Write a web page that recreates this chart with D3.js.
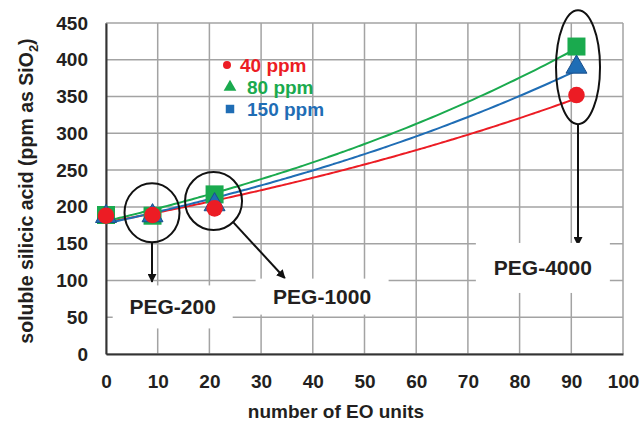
<!DOCTYPE html>
<html>
<head>
<meta charset="utf-8">
<script src="https://cdn.jsdelivr.net/npm/d3@7"></script>
<style>
  body { margin: 0; background: #fff; }
  text { font-family: "Liberation Sans", Arial, sans-serif; font-weight: bold; }
</style>
</head>
<body>
<svg id="chart" width="641" height="424"></svg>
<script>
// data
var eo_units = [0, 9, 21, 91];
var ppm40 = [188, 189, 198, 352];
var ppm80 = [189, 188, 217, 418];
var ppm150 = [187, 188, 203, 390];

var x_ticks = [0, 10, 20, 30, 40, 50, 60, 70, 80, 90, 100];
var y_ticks = [0, 50, 100, 150, 200, 250, 300, 350, 400, 450];

var series = [
	{name: "80 ppm", values: ppm80, color: "#1aaa4e", shape: "square"},
	{name: "150 ppm", values: ppm150, color: "#1f6db5", shape: "triangle"},
	{name: "40 ppm", values: ppm40, color: "#ec1c24", shape: "circle"}
];

var svg = d3.select("#chart");
var margin = {left: 106, right: 18, top: 23, bottom: 70};
var width = 641 - margin.left - margin.right,
    height = 424 - margin.top - margin.bottom;

var x = d3.scaleLinear().domain([0, 100]).range([margin.left, margin.left + width]);
var y = d3.scaleLinear().domain([0, 450]).range([margin.top + height, margin.top]);

// grid
var grid = svg.append("g").attr("class", "grid");
grid.selectAll(".vgrid").data(x_ticks).enter().append("line")
  .attr("x1", d=>x(d)).attr("x2", d=>x(d))
  .attr("y1", y(0)).attr("y2", y(450))
  .style("stroke", "#a3a3a3").style("stroke-width", 1.5);
grid.selectAll(".hgrid").data(y_ticks).enter().append("line")
  .attr("x1", x(0)).attr("x2", x(100))
  .attr("y1", d=>y(d)).attr("y2", d=>y(d))
  .style("stroke", "#a3a3a3").style("stroke-width", 1.5);

// axes
var x_axis = svg.append("g")
  .attr("transform", "translate(0," + y(0) + ")")
  .call(d3.axisBottom(x).tickValues(x_ticks).tickSize(0).tickPadding(21));
var y_axis = svg.append("g")
  .attr("transform", "translate(" + x(0) + ",0)")
  .call(d3.axisLeft(y).tickValues(y_ticks).tickSize(0).tickPadding(18));
[x_axis, y_axis].forEach(a=>{
	a.select(".domain").style("stroke", "#333").style("stroke-width", 2);
	a.selectAll("text").style("font-size", "19px").style("fill", "#231f20")
	  .style("font-family", "Liberation Sans, Arial, sans-serif").style("font-weight", "bold");
});

svg.append("text")
  .attr("x", 336).attr("y", 418)
  .attr("text-anchor", "middle")
  .style("font-size", "19px").style("fill", "#231f20")
  .text("number of EO units");

var ytitle = svg.append("text")
  .attr("transform", "translate(33,191) rotate(-90)")
  .attr("text-anchor", "middle")
  .style("font-size", "19.5px").style("fill", "#231f20");
ytitle.append("tspan").text("soluble silicic acid (ppm as SiO");
ytitle.append("tspan").attr("dy", 5).style("font-size", "13px").text("2");
ytitle.append("tspan").attr("dy", -5).text(")");

// exponential trend lines (least squares on log values, like a spreadsheet trendline)
function exp_fit(xs, ys) {
	var lys = ys.map(Math.log);
	var mx = d3.mean(xs), my = d3.mean(lys);
	var sxy = d3.sum(xs, (v,i)=>(v - mx) * (lys[i] - my));
	var sxx = d3.sum(xs, v=>(v - mx) * (v - mx));
	var b = sxy / sxx;
	var a = Math.exp(my - b * mx);
	return t=>a * Math.exp(b * t);
}

var line = d3.line().x(d=>x(d[0])).y(d=>y(d[1])).curve(d3.curveMonotoneX);
var lines_g = svg.append("g");
[series[2], series[1], series[0]].forEach(s=>{
	var f = exp_fit(eo_units, s.values);
	var pts = d3.range(0, 91.01, 1).map(t=>[t, f(t)]);
	lines_g.append("path")
	  .attr("d", line(pts))
	  .style("fill", "none")
	  .style("stroke", s.color)
	  .style("stroke-width", 2);
});

// markers
var marks = svg.append("g");
series.forEach(s=>{
	var g = marks.append("g");
	g.selectAll("path").data(s.values).enter().append("path")
	  .attr("transform", (d,i)=>"translate(" + x(eo_units[i]) + "," + y(d) + ")")
	  .attr("d", s.shape == "square" ? d3.symbol(d3.symbolSquare, 324)
	         : s.shape == "triangle" ? d3.symbol(d3.symbolTriangle, 190)
	         : d3.symbol(d3.symbolCircle, 215))
	  .style("fill", s.color)
	  .style("stroke", s.shape == "triangle" ? "#1a4f8c" : "none")
	  .style("stroke-width", 1);
});

// legend
var legend_items = [
	{label: "40 ppm", color: "#ec1c24", shape: d3.symbolCircle, size: 50},
	{label: "80 ppm", color: "#1aaa4e", shape: d3.symbolTriangle, size: 70},
	{label: "150 ppm", color: "#1f6db5", shape: d3.symbolSquare, size: 72}
];
var legend = svg.append("g").attr("transform", "translate(227,65)");
legend_items.forEach((d,i)=>{
	var row = legend.append("g").attr("transform", "translate(0," + (i * 22) + ")");
	row.append("path").attr("d", d3.symbol(d.shape, d.size)).style("fill", d.color)
	  .attr("transform", "translate(" + (i == 0 ? 0 : 3) + ",0)");
	row.append("text").attr("x", i == 0 ? 13 : 20).attr("y", 6.5)
	  .style("font-size", "19px").style("fill", d.color).text(d.label);
});

// annotations
var ann = svg.append("g");
var rings = [
	{cx: 8.9, cy: 192, rx: 27.5, ry: 29.5},
	{cx: 20.8, cy: 208, rx: 28.5, ry: 29},
	{cx: 91.3, cy: 390, rx: 22, ry: 57}
];
ann.selectAll("ellipse").data(rings).enter().append("ellipse")
  .attr("cx", d=>x(d.cx)).attr("cy", d=>y(d.cy))
  .attr("rx", d=>d.rx).attr("ry", d=>d.ry)
  .style("fill", "none").style("stroke", "#111").style("stroke-width", 2);

svg.append("defs").append("marker")
  .attr("id", "arrow").attr("viewBox", "0 0 10 10")
  .attr("refX", 9).attr("refY", 5)
  .attr("markerWidth", 4.5).attr("markerHeight", 4.5)
  .attr("orient", "auto")
  .append("path").attr("d", "M0,0L10,5L0,10Z").style("fill", "#111");

var arrows = [
	{x1: 8.9, y1: 151, x2: 8.9, y2: 98},
	{x1: 24.5, y1: 180, x2: 34.6, y2: 103},
	{x1: 91.3, y1: 312, x2: 91.3, y2: 148}
];
ann.selectAll(".arrow").data(arrows).enter().append("line")
  .attr("x1", d=>x(d.x1)).attr("y1", d=>y(d.y1))
  .attr("x2", d=>x(d.x2)).attr("y2", d=>y(d.y2))
  .style("stroke", "#111").style("stroke-width", 2)
  .attr("marker-end", "url(#arrow)");

var labels = [
	{text: "PEG-200", x: 12.9, y: 64, w: 120, h: 43},
	{text: "PEG-1000", x: 41.8, y: 78, w: 133, h: 36},
	{text: "PEG-4000", x: 84.5, y: 117, w: 134, h: 50}
];
var lab = ann.selectAll(".lab").data(labels).enter().append("g")
  .attr("transform", d=>"translate(" + x(d.x) + "," + y(d.y) + ")");
lab.append("rect")
  .attr("x", d=>-d.w / 2).attr("y", d=>-d.h / 2)
  .attr("width", d=>d.w).attr("height", d=>d.h)
  .style("fill", "#fff");
lab.append("text")
  .attr("text-anchor", "middle").attr("y", 7.5)
  .style("font-size", "21px").style("fill", "#231f20")
  .text(d=>d.text);
</script>
</body>
</html>
